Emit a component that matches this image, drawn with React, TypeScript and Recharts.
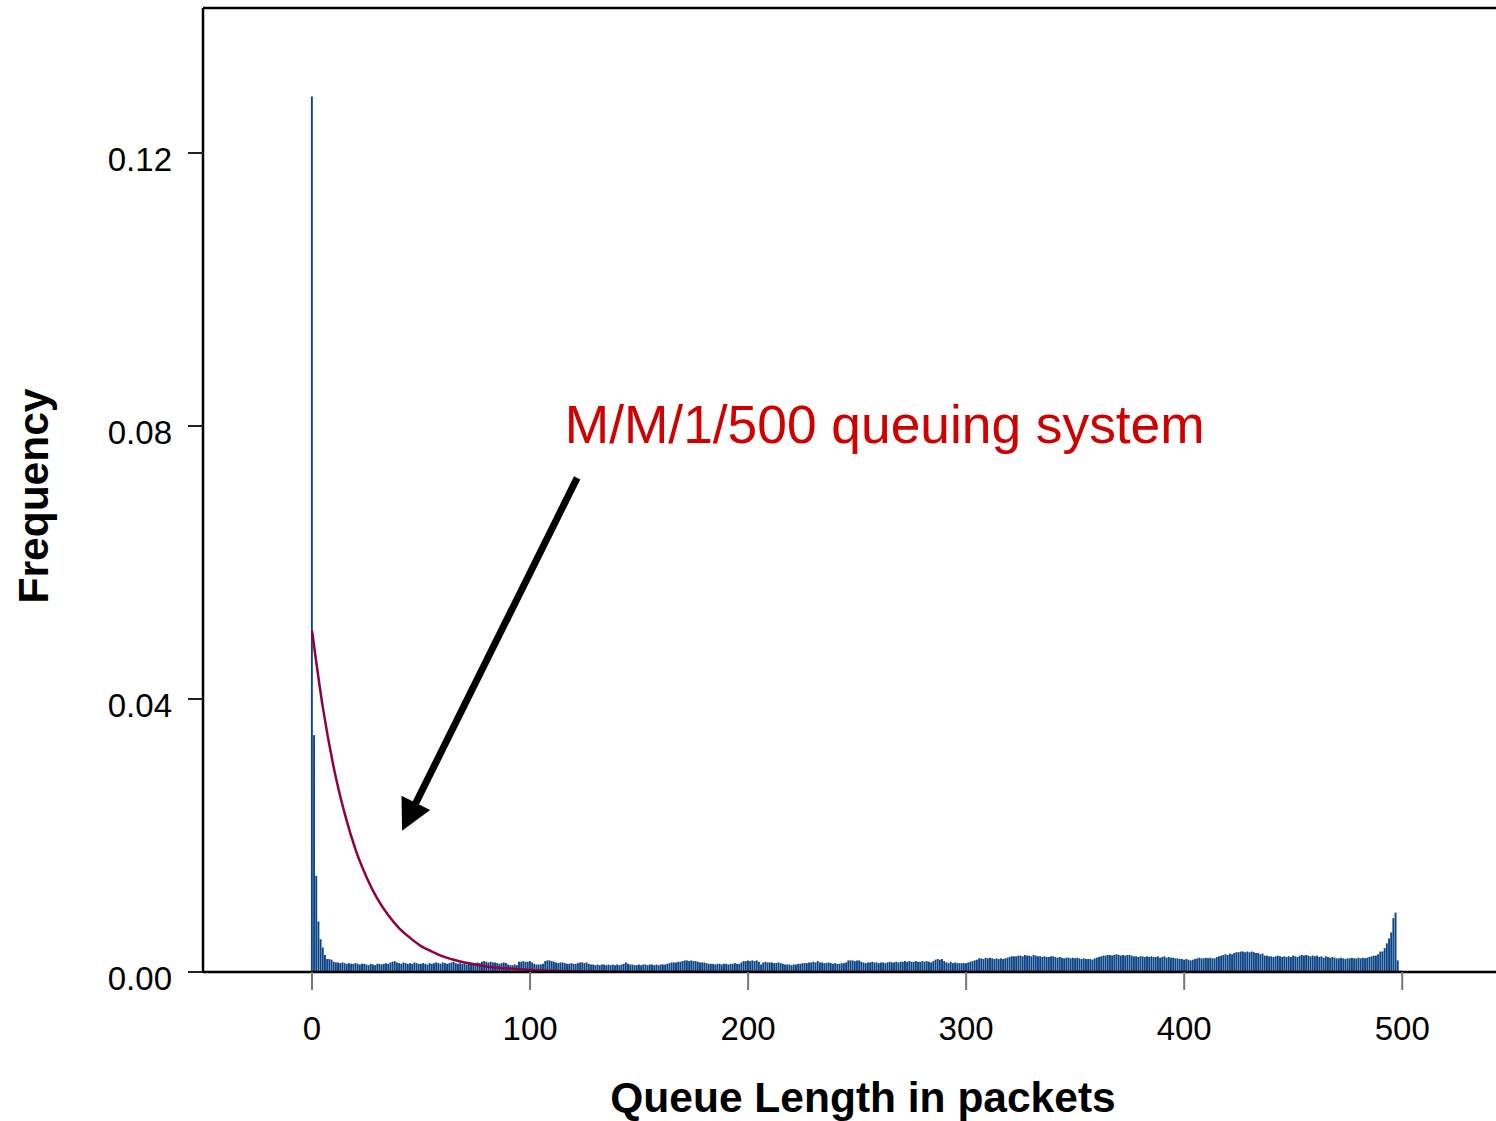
import {
  ComposedChart,
  Bar,
  Line,
  XAxis,
  YAxis,
  ReferenceLine,
  ReferenceDot,
  Label,
} from 'recharts'

// histogram frequency, in units of 1e-4, for queue length 0..500
const histFreqE4 = [
  1283, 347, 141, 74, 48, 36, 25, 19, 19, 18,
  15, 14, 14, 13, 14, 13, 12, 13, 12, 12,
  13, 12, 11, 12, 12, 11, 10, 12, 11, 10,
  12, 12, 11, 12, 13, 12, 14, 15, 16, 14,
  13, 12, 14, 13, 12, 13, 12, 14, 13, 12,
  12, 13, 12, 11, 13, 12, 13, 14, 13, 12,
  14, 13, 12, 13, 14, 15, 13, 12, 13, 12,
  12, 11, 12, 13, 12, 13, 14, 13, 15, 16,
  15, 14, 15, 14, 14, 13, 12, 13, 14, 13,
  11, 10, 10, 11, 10, 15, 15, 16, 15, 15,
  16, 14, 12, 11, 11, 11, 12, 16, 17, 17,
  16, 15, 14, 13, 14, 14, 13, 12, 12, 13,
  12, 12, 13, 14, 14, 13, 14, 12, 11, 11,
  10, 11, 10, 11, 11, 10, 11, 10, 11, 10,
  11, 10, 11, 12, 14, 12, 11, 11, 10, 10,
  11, 10, 11, 11, 10, 11, 11, 10, 11, 10,
  11, 11, 11, 12, 13, 14, 14, 14, 15, 15,
  16, 17, 17, 16, 17, 16, 16, 15, 14, 14,
  14, 13, 12, 12, 12, 11, 12, 12, 11, 12,
  12, 11, 12, 12, 13, 12, 12, 14, 16, 16,
  17, 16, 17, 16, 17, 15, 11, 14, 15, 14,
  14, 14, 13, 13, 14, 13, 12, 11, 11, 11,
  10, 11, 11, 12, 12, 13, 13, 13, 14, 14,
  15, 14, 16, 14, 14, 13, 13, 14, 13, 12,
  13, 12, 12, 13, 13, 14, 17, 17, 17, 16,
  17, 17, 15, 14, 13, 14, 14, 15, 14, 14,
  13, 14, 14, 13, 14, 15, 14, 14, 15, 14,
  15, 15, 16, 15, 16, 15, 15, 16, 15, 15,
  16, 15, 16, 15, 14, 16, 18, 19, 18, 19,
  16, 14, 13, 15, 13, 14, 13, 13, 13, 13,
  13, 14, 15, 16, 17, 18, 20, 20, 19, 21,
  20, 21, 20, 19, 20, 19, 20, 19, 20, 21,
  22, 23, 23, 23, 24, 24, 23, 25, 24, 24,
  23, 25, 24, 23, 23, 22, 23, 22, 22, 23,
  23, 22, 21, 22, 21, 20, 21, 21, 20, 21,
  20, 21, 20, 19, 20, 19, 19, 19, 18, 20,
  21, 22, 23, 24, 24, 25, 25, 24, 25, 26,
  25, 24, 25, 24, 25, 25, 24, 23, 23, 22,
  23, 23, 22, 23, 22, 23, 22, 22, 23, 21,
  22, 23, 21, 22, 21, 21, 20, 20, 19, 19,
  18, 19, 18, 17, 18, 19, 20, 21, 20, 20,
  21, 20, 21, 20, 20, 22, 23, 24, 25, 26,
  25, 27, 26, 28, 29, 29, 30, 30, 29, 30,
  29, 30, 29, 28, 28, 26, 27, 24, 24, 23,
  23, 22, 23, 24, 23, 22, 23, 22, 23, 22,
  24, 23, 22, 24, 25, 24, 25, 24, 23, 24,
  23, 24, 22, 23, 21, 23, 22, 21, 22, 21,
  20, 20, 21, 20, 19, 20, 20, 21, 20, 20,
  21, 20, 21, 20, 21, 22, 23, 24, 24, 26,
  30, 30, 35, 42, 49, 58, 79, 87, 17, 0,
  0,
]

// M/M/1/500 curve read at a few queue lengths
const curveQueue = [0, 5, 10, 15, 20, 25, 30, 35, 40, 45, 50, 55, 60, 65, 70, 75, 80, 90, 100, 120, 150, 200, 300, 400, 500]
const curveFreq = [
  0.05, 0.0387, 0.0299, 0.0232, 0.0179, 0.0139, 0.0107, 0.0083, 0.0064, 0.005,
  0.0038, 0.003, 0.0023, 0.0018, 0.0014, 0.0011, 0.0008, 0.0005, 0.0003, 0.0001,
  0.00002, 0, 0, 0, 0,
]

const xTicks = [0, 100, 200, 300, 400, 500]
const yTicks = [0, 0.04, 0.08, 0.12]

const data = histFreqE4.map((f, n) => {
  const i = curveQueue.indexOf(n)
  return { n, freq: f / 10000, mm1: i >= 0 ? curveFreq[i] : null }
})

const FONT = '"Liberation Sans", Arial, Helvetica, sans-serif'

const XTick = ({ x, y, payload }: any) => (
  <text x={x} y={y + 48} textAnchor='middle' fontSize={33} fontFamily={FONT} fill='#000'>
    {payload.value}
  </text>
)

const YTick = ({ x, y, payload }: any) => (
  <text x={x} y={y + 18} textAnchor='end' fontSize={33} fontFamily={FONT} fill='#000'>
    {payload.value.toFixed(2)}
  </text>
)

const Arrow = (props: any) => {
  const { x1, y1, x2, y2 } = props
  const dx = x2 - x1
  const dy = y2 - y1
  const len = Math.hypot(dx, dy)
  const ux = dx / len
  const uy = dy / len
  const headLen = 31
  const half = 16
  const bx = x2 - ux * headLen
  const by = y2 - uy * headLen
  const px = -uy
  const py = ux
  return (
    <g>
      <line x1={x1} y1={y1} x2={bx + ux * 3} y2={by + uy * 3} stroke='#000' strokeWidth={7} />
      <polygon
        points={`${x2},${y2} ${bx + px * half},${by + py * half} ${bx - px * half},${by - py * half}`}
        fill='#000'
      />
    </g>
  )
}

const Note = ({ cx, cy }: any) => (
  <text x={cx + 2} y={cy} fontSize={53.3} fontFamily={FONT} fill='#d00000'>
    M/M/1/500 queuing system
  </text>
)

export default function App() {
  return (
    <div style={{ position: 'absolute', left: 0, top: 0, background: '#fff' }}>
      <ComposedChart
        width={1496}
        height={1121}
        data={data}
        margin={{ top: 8, right: 0, bottom: 0, left: 0 }}
      >
        <XAxis
          dataKey='n'
          type='number'
          domain={[-50, 543]}
          ticks={xTicks}
          allowDataOverflow
          height={149}
          tickSize={18}
          tick={<XTick />}
          axisLine={{ stroke: '#000', strokeWidth: 2.5 }}
          tickLine={{ stroke: '#777', strokeWidth: 2 }}
        >
          <Label
            content={() => (
              <text x={863} y={1112} textAnchor='middle' fontSize={42.5} fontWeight='bold' fontFamily={FONT} fill='#000'>
                Queue Length in packets
              </text>
            )}
          />
        </XAxis>
        <YAxis
          type='number'
          domain={[0, 0.14125]}
          ticks={yTicks}
          allowDataOverflow
          width={203}
          tickSize={15}
          tickMargin={16}
          tick={<YTick />}
          axisLine={{ stroke: '#000', strokeWidth: 2.5 }}
          tickLine={{ stroke: '#222', strokeWidth: 2 }}
        >
          <Label
            content={() => (
              <text
                x={48}
                y={496}
                textAnchor='middle'
                fontSize={42.5}
                fontWeight='bold'
                fontFamily={FONT}
                fill='#000'
                transform='rotate(-90, 48, 496)'
              >
                Frequency
              </text>
            )}
          />
        </YAxis>
        <ReferenceLine y={0.14125} stroke='#000' strokeWidth={2.5} />
        <Bar dataKey='freq' fill='#0c4587' barSize={1.9} isAnimationActive={false} />
        <Line
          dataKey='mm1'
          type='monotone'
          stroke='#900042'
          strokeWidth={2.5}
          dot={false}
          connectNulls
          isAnimationActive={false}
        />
        <ReferenceLine
          segment={[
            { x: 121.6, y: 0.0724 },
            { x: 41.3, y: 0.0207 },
          ]}
          shape={<Arrow />}
        />
        <ReferenceDot x={115} y={0.0775} r={0} shape={<Note />} />
      </ComposedChart>
    </div>
  )
}
